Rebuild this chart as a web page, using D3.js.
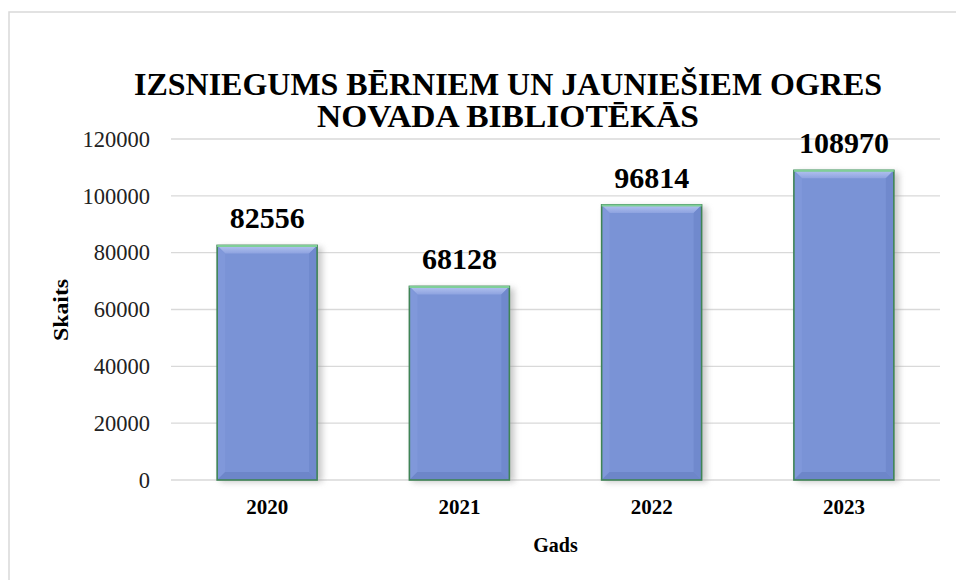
<!DOCTYPE html>
<html>
<head>
<meta charset="utf-8">
<script src="https://cdn.jsdelivr.net/npm/d3@7"></script>
<style>
  body { margin: 0; background: #fff; }
  svg { display: block; }
</style>
</head>
<body>
<div id="chart"></div>
<script>
// chart data
const years = ["2020", "2021", "2022", "2023"];
const loans = [82556, 68128, 96814, 108970];
const yTicks = [0, 20000, 40000, 60000, 80000, 100000, 120000];
const titleLines = ["IZSNIEGUMS BĒRNIEM UN JAUNIEŠIEM OGRES", "NOVADA BIBLIOTĒKĀS"];

const W = 956, H = 580;
const margin = {top: 139, right: 16, bottom: 100, left: 171};
const font = "'Liberation Serif', 'Times New Roman', serif";

const svg = d3.select("#chart").append("svg")
    .attr("width", W)
    .attr("height", H);

const defs = svg.append("defs");
defs.append("filter").attr("id", "shadow")
    .attr("x", "-20%").attr("y", "-5%").attr("width", "140%").attr("height", "110%")
  .append("feGaussianBlur").attr("stdDeviation", 3);

const topGrad = defs.append("linearGradient").attr("id", "topbev")
    .attr("x1", 0).attr("y1", 0).attr("x2", 0).attr("y2", 1);
topGrad.append("stop").attr("offset", 0).attr("stop-color", "#b4c4f0");
topGrad.append("stop").attr("offset", 1).attr("stop-color", "#8ea3e0");

// outer chart border (runs off the right and bottom)
svg.append("rect")
    .attr("x", 9).attr("y", 12)
    .attr("width", W + 20).attr("height", H + 20)
    .attr("fill", "#fff")
    .attr("stroke", "#d9d9d9")
    .attr("stroke-width", 1.5);

const x = d3.scaleBand()
    .domain(years)
    .range([margin.left, 940])
    .paddingInner(0.48)
    .paddingOuter(0.24);

const y = d3.scaleLinear()
    .domain([0, 120000])
    .range([480, margin.top]);

// gridlines
svg.append("g")
    .selectAll("line")
    .data(yTicks)
    .join("line")
    .attr("x1", margin.left).attr("x2", 940)
    .attr("y1", d => y(d)).attr("y2", d => y(d))
    .attr("stroke", "#d9d9d9")
    .attr("stroke-width", 1.3);

// y axis labels
const yAxis = svg.append("g")
    .attr("transform", `translate(${margin.left},0)`)
    .call(d3.axisLeft(y).tickValues(yTicks).tickSize(0).tickPadding(21).tickFormat(d3.format("d")));
yAxis.select(".domain").remove();
yAxis.selectAll("text")
    .style("font-family", font)
    .style("font-size", "22.5px")
    .attr("fill", "#222");

// x axis labels
const xAxis = svg.append("g")
    .attr("transform", "translate(0,480)")
    .call(d3.axisBottom(x).tickSize(0).tickPadding(19));
xAxis.select(".domain").remove();
xAxis.selectAll("text")
    .style("font-family", font)
    .style("font-size", "21px")
    .style("font-weight", "bold")
    .attr("fill", "#000");

// bars
const bev = 8;
const bars = svg.append("g")
    .selectAll("g")
    .data(years.map((d, i) => ({year: d, value: loans[i]})))
    .join("g");

bars.append("rect")
    .attr("x", d => x(d.year) + 3)
    .attr("y", d => y(d.value) + 2)
    .attr("width", x.bandwidth() + 2)
    .attr("height", d => y(0) - y(d.value))
    .attr("fill", "#999")
    .attr("opacity", 0.55)
    .attr("filter", "url(#shadow)");

bars.append("rect")
    .attr("x", d => x(d.year))
    .attr("y", d => y(d.value))
    .attr("width", x.bandwidth())
    .attr("height", d => y(0) - y(d.value))
    .attr("fill", "#7a93d6");

// top bevel (lighter)
bars.append("path")
    .attr("d", d => {
      const x0 = x(d.year), x1 = x0 + x.bandwidth(), t = y(d.value);
      return `M${x0},${t}L${x1},${t}L${x1 - bev},${t + bev}L${x0 + bev},${t + bev}Z`;
    })
    .attr("fill", "url(#topbev)");

// left bevel
bars.append("path")
    .attr("d", d => {
      const x0 = x(d.year), t = y(d.value), b = y(0);
      return `M${x0},${t}L${x0 + bev},${t + bev}L${x0 + bev},${b - bev}L${x0},${b}Z`;
    })
    .attr("fill", "#8098da");

// right bevel
bars.append("path")
    .attr("d", d => {
      const x1 = x(d.year) + x.bandwidth(), t = y(d.value), b = y(0);
      return `M${x1},${t}L${x1 - bev},${t + bev}L${x1 - bev},${b - bev}L${x1},${b}Z`;
    })
    .attr("fill", "#7089cd");

// bottom bevel (darker)
bars.append("path")
    .attr("d", d => {
      const x0 = x(d.year), x1 = x0 + x.bandwidth(), b = y(0);
      return `M${x0},${b}L${x1},${b}L${x1 - bev},${b - bev}L${x0 + bev},${b - bev}Z`;
    })
    .attr("fill", "#6d86c9");

// green outline
bars.append("rect")
    .attr("x", d => x(d.year))
    .attr("y", d => y(d.value))
    .attr("width", x.bandwidth())
    .attr("height", d => y(0) - y(d.value))
    .attr("fill", "none")
    .attr("stroke", "#3f8456")
    .attr("stroke-width", 1.6);
bars.append("line")
    .attr("x1", d => x(d.year)).attr("x2", d => x(d.year) + x.bandwidth())
    .attr("y1", d => y(d.value) + 0.5).attr("y2", d => y(d.value) + 0.5)
    .attr("stroke", "#7fcf98")
    .attr("stroke-width", 2);

// value labels
bars.append("text")
    .attr("x", d => x(d.year) + x.bandwidth() / 2)
    .attr("y", d => y(d.value) - 17)
    .attr("text-anchor", "middle")
    .style("font-family", font)
    .style("font-size", "30px")
    .style("font-weight", "bold")
    .text(d => d.value);

// title
const titleLen = [748, 382];
svg.append("g")
    .selectAll("text")
    .data(titleLines)
    .join("text")
    .attr("x", 508)
    .attr("y", (d, i) => 95 + i * 32)
    .attr("text-anchor", "middle")
    .attr("textLength", (d, i) => titleLen[i])
    .attr("lengthAdjust", "spacingAndGlyphs")
    .style("font-family", font)
    .style("font-size", "31px")
    .style("font-weight", "bold")
    .text(d => d);

// axis titles
svg.append("text")
    .attr("x", (margin.left + 940) / 2)
    .attr("y", 552)
    .attr("text-anchor", "middle")
    .style("font-family", font)
    .style("font-size", "20px")
    .style("font-weight", "bold")
    .text("Gads");

svg.append("text")
    .attr("transform", "translate(68,310) rotate(-90)")
    .attr("text-anchor", "middle")
    .attr("textLength", 62)
    .attr("lengthAdjust", "spacingAndGlyphs")
    .style("font-family", font)
    .style("font-size", "20px")
    .style("font-weight", "bold")
    .text("Skaits");
</script>
</body>
</html>
